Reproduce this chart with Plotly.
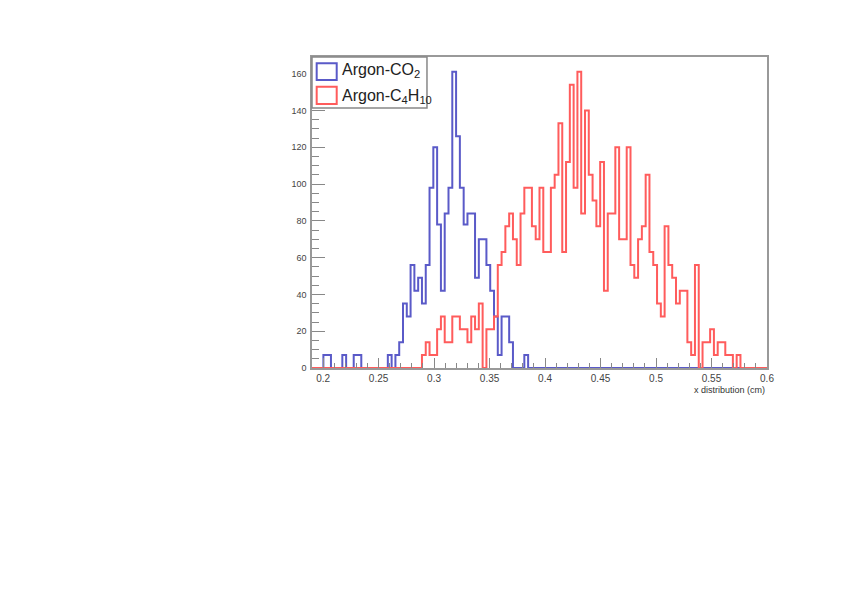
import plotly.graph_objects as go

# Histogram definition (ROOT-like fixed binning)
x_min = 0.19
x_max = 0.60
n_bins = 120

# Bin contents (bins 0..119)
argon_co2 = [
    0, 0, 0, 7, 7, 0, 0, 0, 7, 0,
    0, 7, 7, 0, 0, 0, 0, 0, 0, 0,
    7, 0, 7, 14, 35, 28, 56, 42, 49, 35,
    56, 98, 120, 78, 42, 84, 98, 161, 126, 98,
    78, 84, 84, 49, 70, 70, 56, 42, 28, 7,
    28, 28, 14, 0, 0, 0, 7, 0, 0, 0,
    0, 0, 0, 0, 0, 0, 0, 0, 0, 0,
    0, 0, 0, 0, 0, 0, 0, 0, 0, 0,
    0, 0, 0, 0, 0, 0, 0, 0, 0, 0,
    0, 0, 0, 0, 0, 0, 0, 0, 0, 0,
    0, 0, 0, 0, 0, 0, 0, 0, 0, 0,
    0, 0, 0, 0, 0, 0, 0, 0, 0, 0,
]
argon_c4h10 = [
    0, 0, 0, 0, 0, 0, 0, 0, 0, 0,
    0, 0, 0, 0, 0, 0, 0, 0, 0, 0,
    0, 0, 0, 0, 0, 0, 0, 0, 0, 7,
    14, 7, 7, 21, 28, 14, 14, 28, 28, 21,
    21, 14, 28, 21, 35, 0, 21, 21, 28, 56,
    63, 77, 84, 70, 56, 84, 98, 98, 77, 70,
    98, 63, 63, 98, 105, 133, 63, 112, 154, 98,
    161, 84, 140, 105, 91, 77, 112, 42, 84, 84,
    120, 70, 70, 120, 56, 49, 70, 77, 105, 63,
    56, 35, 28, 77, 56, 49, 35, 42, 42, 14,
    7, 56, 0, 14, 14, 21, 7, 14, 14, 7,
    7, 0, 7, 0, 0, 0, 0, 0, 0, 0,
]

series_names = ["Argon-CO<sub>2</sub>", "Argon-C<sub>4</sub>H<sub>10</sub>"]
series_colors = ["#5a5ac8", "#ff5c5c"]

x_tick_vals = [0.2, 0.25, 0.3, 0.35, 0.4, 0.45, 0.5, 0.55, 0.6]
x_tick_text = ["0.2", "0.25", "0.3", "0.35", "0.4", "0.45", "0.5", "0.55", "0.6"]
y_tick_vals = [0, 20, 40, 60, 80, 100, 120, 140, 160]
x_title = "x distribution (cm)"

bw = (x_max - x_min) / n_bins
edges = [x_min + i * bw for i in range(n_bins + 1)]

fig = go.Figure()
for vals, name, col in zip([argon_co2, argon_c4h10], series_names, series_colors):
    fig.add_trace(go.Scatter(
        x=edges, y=list(vals) + [vals[-1]], mode="lines", name=name,
        line=dict(color=col, width=2, shape="hv"),
        showlegend=False, hoverinfo="skip",
    ))

ymax = 1.05 * max(max(argon_co2), max(argon_c4h10))

FONT = "Liberation Sans, Arial, sans-serif"
axis_font = dict(family=FONT, size=10, color="#444")

# page body has an 8px offset; plot frame lands at 312..767 x 57..368
fig.update_layout(
    width=845, height=598,
    margin=dict(l=304, r=86, t=49, b=238),
    paper_bgcolor="white", plot_bgcolor="white",
    font=dict(family=FONT),
    showlegend=False,
    xaxis=dict(
        range=[x_min, x_max], tickmode="array", tickvals=x_tick_vals, ticktext=x_tick_text,
        ticks="inside", ticklen=10, tickcolor="#888", tickwidth=1,
        showline=True, linecolor="#999", linewidth=1.5, mirror=True,
        showgrid=False, zeroline=False, tickfont=axis_font,
        minor=dict(dtick=0.01, ticks="inside", ticklen=5, tickcolor="#888", showgrid=False),
    ),
    yaxis=dict(
        range=[0, ymax], tickmode="array", tickvals=y_tick_vals,
        ticks="inside", ticklen=13, tickcolor="#888", tickwidth=1,
        showline=True, linecolor="#999", linewidth=1.5, mirror=True,
        showgrid=False, zeroline=False, tickfont=dict(family=FONT, size=9, color="#444"),
        ticklabelstandoff=2,
        minor=dict(dtick=5, ticks="inside", ticklen=7, tickcolor="#888", showgrid=False),
    ),
)
fig.add_annotation(
    text=x_title, xref="paper", yref="paper", x=1, y=-0.072,
    xanchor="right", yanchor="middle", showarrow=False,
    font=dict(family=FONT, size=9, color="#333"),
)

# ROOT-style legend (TLegend with box-outline entries)
fig.add_shape(type="rect", xref="paper", yref="paper", x0=0, x1=0.2527, y0=0.836, y1=1.0,
              line=dict(color="#888", width=1.5), fillcolor="white", layer="above")
icon_y = [(0.926, 0.980), (0.849, 0.9045)]
text_y = [0.956, 0.872]
for (y0, y1), ty, name, col in zip(icon_y, text_y, series_names, series_colors):
    fig.add_shape(type="rect", xref="paper", yref="paper", x0=0.0103, x1=0.0543, y0=y0, y1=y1,
                  line=dict(color=col, width=2), fillcolor="rgba(255,255,255,0)", layer="above")
    fig.add_annotation(text=name, xref="paper", yref="paper", x=0.0615, y=ty,
                       xanchor="left", yanchor="middle", showarrow=False,
                       font=dict(family=FONT, size=16, color="#222"))

fig.write_html("out.html")
